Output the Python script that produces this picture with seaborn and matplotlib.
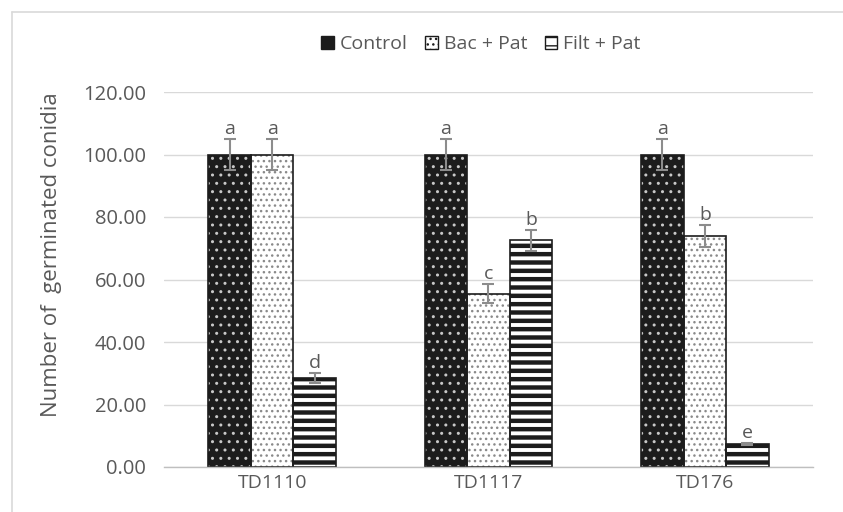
import matplotlib
matplotlib.use("Agg")
import matplotlib.pyplot as plt
import matplotlib.patches as mpatches
import seaborn as sns
import pandas as pd
import numpy as np

categories = ["TD1110", "TD1117", "TD176"]
series = ["Control", "Bac + Pat", "Filt + Pat"]
control = [100.0, 100.0, 100.0]
bac_pat = [100.0, 55.5, 74.0]
filt_pat = [28.5, 72.5, 7.5]
err_control = [5.0, 5.0, 5.0]
err_bac = [5.0, 3.0, 3.5]
err_filt = [1.5, 3.5, 0.3]
letters_control = ["a", "a", "a"]
letters_bac = ["a", "c", "b"]
letters_filt = ["d", "b", "e"]
yticks = [0, 20, 40, 60, 80, 100, 120]

sns.set_style("white")
plt.rcParams['font.family'] = ['Open Sans', 'DejaVu Sans']
plt.rcParams['hatch.linewidth'] = 1.0

rows = []
for c, v in zip(categories, control):
    rows.append((c, "Control", v))
for c, v in zip(categories, bac_pat):
    rows.append((c, "Bac + Pat", v))
for c, v in zip(categories, filt_pat):
    rows.append((c, "Filt + Pat", v))
df = pd.DataFrame(rows, columns=["cat", "series", "value"])

W, H = 843, 512
L, R, T, B = 164, 813, 92, 467
fig = plt.figure(figsize=(W/100, H/100), dpi=100)
ax = fig.add_axes([L/W, 1-B/H, (R-L)/W, (B-T)/H])

sns.barplot(data=df, x="cat", y="value", hue="series", order=categories,
            hue_order=series, width=0.59, gap=0, errorbar=None, ax=ax,
            legend=False, saturation=1)

styles = {
    "Control": dict(face="#1c1c1c", hatch="..", hcolor="#c8c8c8", hlw=1.0),
    "Bac + Pat": dict(face="white", hatch="...", hcolor="#8a8a8a", hlw=1.0),
    "Filt + Pat": dict(face="white", hatch="--", hcolor="#1c1c1c", hlw=3.2),
}
errs = [err_control, err_bac, err_filt]
vals = [control, bac_pat, filt_pat]
lets = [letters_control, letters_bac, letters_filt]
gray = "#595959"

for si, (name, cont) in enumerate(zip(series, ax.containers)):
    st = styles[name]
    for j, p in enumerate(cont.patches):
        p.set_facecolor(st["face"])
        p.set_hatch(st["hatch"])
        p.set_edgecolor(st["hcolor"])
        p.set_linewidth(0)
        if hasattr(p, "set_hatch_linewidth"):
            p.set_hatch_linewidth(st["hlw"])
        else:
            p._hatch_linewidth = st["hlw"]
        outline = mpatches.Rectangle(p.get_xy(), p.get_width(), p.get_height(),
                                     fill=False, edgecolor="#1c1c1c", lw=1.2, zorder=p.get_zorder()+0.1)
        ax.add_patch(outline)
        xc = p.get_x() + p.get_width()/2
        ax.errorbar(xc, vals[si][j], yerr=errs[si][j], color="#8c8c8c",
                    capsize=4.5, elinewidth=1.5, capthick=1.5, zorder=5)
        ax.text(xc, vals[si][j] + errs[si][j] + 0.3, lets[si][j], ha="center",
                va="bottom", fontsize=14, color=gray)

ax.set_xlim(-0.5, len(categories) - 0.5)
ax.set_ylim(0, 120)
ax.set_yticks(yticks)
ax.set_yticklabels([f"{t:.2f}" for t in yticks], fontsize=14.5, color=gray)
ax.tick_params(axis="x", labelsize=14, labelcolor=gray, length=0, pad=5)
ax.tick_params(axis="y", length=0, pad=13)
ax.set_xlabel("")
ax.set_ylabel("Number of  germinated conidia", fontsize=16, color=gray)
ax.yaxis.set_label_coords((62 - L)/(R - L), (B - 255)/(B - T))
ax.yaxis.grid(True, color="#d9d9d9", lw=1)
ax.set_axisbelow(True)
for s in ["top", "right", "left"]:
    ax.spines[s].set_visible(False)
ax.spines["bottom"].set_color("#bfbfbf")
ax.spines["bottom"].set_linewidth(1.0)

handles = []
for name in series:
    st = styles[name]
    h = mpatches.Patch(facecolor=st["face"], edgecolor="#1c1c1c", hatch=st["hatch"], lw=1.0)
    handles.append(h)
leg = fig.legend(handles, series, loc="center", bbox_to_anchor=(481/W, 1-44/H), ncol=3,
                 frameon=False, fontsize=14, handlelength=0.65, handleheight=0.65,
                 handletextpad=0.3, columnspacing=0.9)
for t in leg.get_texts():
    t.set_color(gray)

fig.add_artist(plt.Line2D([12/W, 12/W], [0, 1-12/H], transform=fig.transFigure, color="#d9d9d9", lw=1.2))
fig.add_artist(plt.Line2D([12/W, 1], [1-12/H, 1-12/H], transform=fig.transFigure, color="#d9d9d9", lw=1.2))

fig.savefig("out.png", dpi=100)
